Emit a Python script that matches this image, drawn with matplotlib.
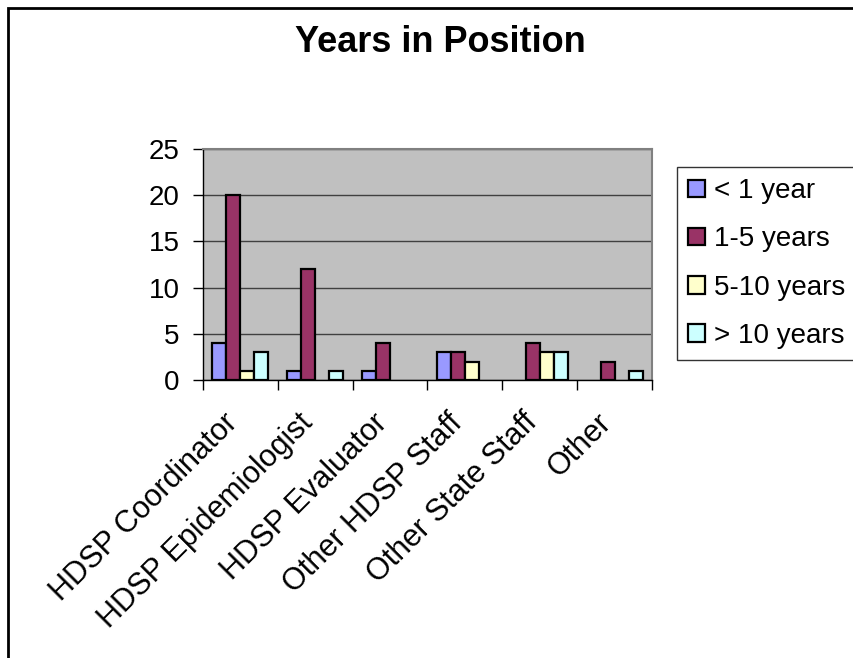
import matplotlib.pyplot as plt
import matplotlib.patches as patches
import numpy as np

plt.rcParams['font.family'] = ['Liberation Sans', 'DejaVu Sans']

# Survey counts per job category
categories = ["HDSP Coordinator", "HDSP Epidemiologist", "HDSP Evaluator",
              "Other HDSP Staff", "Other State Staff", "Other"]
under_1 = [4, 1, 1, 3, 0, 0]
one_to_5 = [20, 12, 4, 3, 4, 2]
five_to_10 = [1, 0, 0, 2, 3, 0]
over_10 = [3, 1, 0, 0, 3, 1]

series_names = ["< 1 year", "1-5 years", "5-10 years", "> 10 years"]
series_colors = ["#9999FF", "#993366", "#FFFFCC", "#CCFFFF"]
series = [under_1, one_to_5, five_to_10, over_10]

fig = plt.figure(figsize=(8.54, 6.58), dpi=100)
ax = fig.add_axes([203/854, 1-380/658, 449/854, 231/658])
ax.set_facecolor("#C0C0C0")

x = np.arange(len(categories))
bw = 0.187
for i, (vals, name, col) in enumerate(zip(series, series_names, series_colors)):
    # empty bars get no outline so the baseline stays thin
    edges = ["black" if v > 0 else "none" for v in vals]
    ax.bar(x - 1.5*bw + i*bw, vals, width=bw, color=col, edgecolor=edges,
           linewidth=1.6, label=name, zorder=3)

ax.set_xlim(-0.5, len(categories) - 0.5)
ax.set_ylim(0, 25)
ax.set_yticks(np.arange(0, 26, 5))
ax.tick_params(axis='y', labelsize=20, length=7, width=1, pad=10)
ax.yaxis.grid(True, color="#404040", linewidth=1, zorder=0)

# category boundaries carry the ticks, labels sit at the centres
ax.set_xticks(np.arange(len(categories) + 1) - 0.5)
ax.set_xticklabels([])
ax.tick_params(axis='x', length=7, width=1)
for xi, lab in zip(x, categories):
    ax.text(xi - 0.24, -3.0, lab, rotation=45, ha='right', va='top',
            rotation_mode='anchor', fontsize=22)

for side in ("top", "right"):
    ax.spines[side].set_color("#808080")
    ax.spines[side].set_linewidth(1.5)
ax.spines["left"].set_linewidth(1)
ax.spines["bottom"].set_linewidth(1)

fig.text(440/854, 1-42/658, "Years in Position", ha='center', va='center',
         fontsize=26, fontweight='bold')

leg = fig.legend(loc='upper left', bbox_to_anchor=(677/854, 1-167/658),
                 fontsize=20, frameon=True, fancybox=False, edgecolor="black",
                 handlelength=0.6, handleheight=0.6, handletextpad=0.35,
                 labelspacing=0.8, borderpad=0.4, borderaxespad=0)
leg.get_frame().set_linewidth(1)

# outer chart border, running off the right and bottom edges
fig.patches.append(patches.Rectangle((8/854, -0.1), 1.2, 1 - 8/658 + 0.1,
                                     transform=fig.transFigure, fill=False,
                                     edgecolor="black", linewidth=2))

fig.savefig("out.png", dpi=100)
